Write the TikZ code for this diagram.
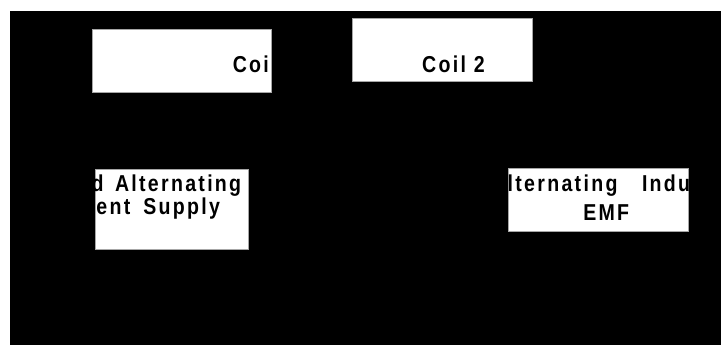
\documentclass[tikz,border=0pt]{standalone}
\usepackage{fontspec}
\setmainfont{Liberation Sans}
\newfontfamily\lblfont{Liberation Sans}[FakeStretch=0.85,LetterSpace=10]
\begin{document}
\begin{tikzpicture}[x=1pt,y=-1pt,
  box/.style={fill=white,draw=gray!70,line width=0.6pt},
  lbl/.style={inner sep=0pt,outer sep=0pt,font=\lblfont\bfseries\fontsize{23}{28}\selectfont,text=black}]
\useasboundingbox (0,0) rectangle (721,345);
\fill[white] (0,0) rectangle (721,345);
\fill[black] (10,11) rectangle (721,345);
% boxes
\path[box] (92.7,29.3) coordinate (a1) rectangle (271.7,92.3) coordinate (a2);
\path[box] (352.7,18.3) coordinate (b1) rectangle (532.7,81.7) coordinate (b2);
\path[box] (95,169.3) coordinate (c1) rectangle (248.3,249.3) coordinate (c2);
\path[box] (508.3,168.3) coordinate (d1) rectangle (688.3,231) coordinate (d2);
% Coil 1
\begin{scope}
\clip (a1) rectangle (a2);
\node[lbl,anchor=base west] (coilone) at (232.8,72.7) {Coil 1};
\end{scope}
% Coil 2
\begin{scope}
\clip (b1) rectangle (b2);
\node[lbl,anchor=base west] (coiltwo) at (422.2,72.7) {Coil 2};
\end{scope}
% supply
\begin{scope}
\clip (c1) rectangle (c2);
\node[lbl,anchor=base east] (applied) at (103.5,191) {Applied};
\node[lbl,anchor=base west] (altA) at (115,191) {Alternating};
\node[lbl,anchor=base east] (current) at (130.3,214.5) {Current};
\node[lbl,anchor=base west] (supply) at (143.3,214.5) {Supply};
\end{scope}
% EMF
\begin{scope}
\clip (d1) rectangle (d2);
\node[lbl,anchor=base west] (altB) at (491.3,191.7) {Alternating};
\node[lbl,anchor=base west] (induced) at (642,191.7) {Induced};
\node[lbl,anchor=base west] (emf) at (583.3,220) {EMF};
\end{scope}
\end{tikzpicture}
\end{document}
